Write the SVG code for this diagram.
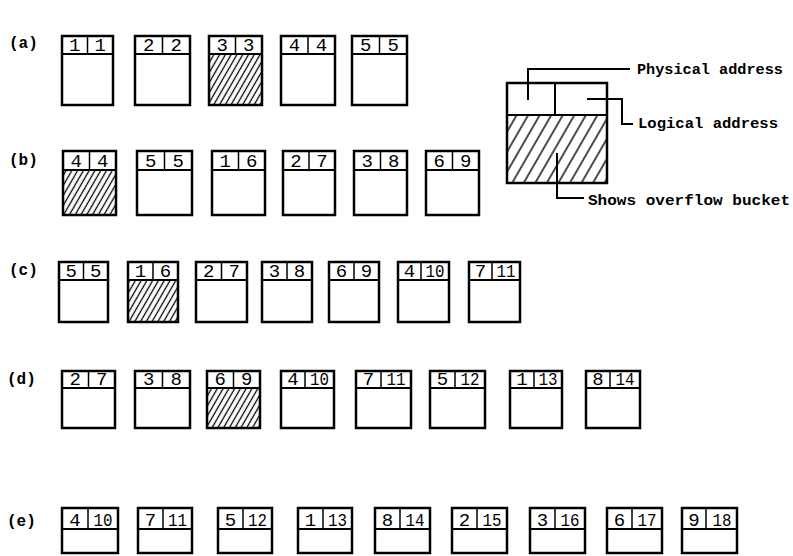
<svg xmlns="http://www.w3.org/2000/svg" width="793" height="556" viewBox="0 0 793 556">
<defs>
<pattern id="h" patternUnits="userSpaceOnUse" width="5" height="5" patternTransform="rotate(30)">
<line x1="2.5" y1="0" x2="2.5" y2="5" stroke="#000" stroke-width="1.3"/>
</pattern>
<pattern id="hl" patternUnits="userSpaceOnUse" width="10" height="10" patternTransform="rotate(30)">
<line x1="5" y1="0" x2="5" y2="10" stroke="#000" stroke-width="1.4"/>
</pattern>
<style>
.box{fill:none;stroke:#000;stroke-width:2.5}
.ln{stroke:#000;stroke-width:2}
.vd{stroke:#000;stroke-width:1.5}
.hf{fill:url(#h);stroke:none}
.n{font-family:"Liberation Mono","DejaVu Sans Mono",monospace;font-size:19px;text-anchor:middle;fill:#000}
.n2{font-family:"Liberation Mono","DejaVu Sans Mono",monospace;font-size:18px;text-anchor:middle;fill:#000}
.lab{font-family:"Liberation Mono","DejaVu Sans Mono",monospace;font-size:16px;font-weight:bold;fill:#000}
.leg{font-family:"Liberation Mono","DejaVu Sans Mono",monospace;font-size:15px;font-weight:bold;fill:#000}
.con{fill:none;stroke:#000;stroke-width:2}
</style>
</defs>
<rect width="793" height="556" fill="#fff"/>

<!-- row labels -->
<text class="lab" x="9" y="48">(a)</text>
<text class="lab" x="9" y="165">(b)</text>
<text class="lab" x="9" y="275">(c)</text>
<text class="lab" x="7" y="384">(d)</text>
<text class="lab" x="7" y="526">(e)</text>

<!-- row a -->
<g id="a1"><rect class="box" x="62" y="36" width="51" height="69"/><line class="ln" x1="62" y1="54" x2="113" y2="54"/><line class="vd" x1="87.5" y1="36" x2="87.5" y2="54"/><text class="n" x="74.75" y="51">1</text><text class="n" x="100.25" y="51">1</text></g>
<g id="a2"><rect class="box" x="135" y="36" width="55" height="69"/><line class="ln" x1="135" y1="54" x2="190" y2="54"/><line class="vd" x1="162.5" y1="36" x2="162.5" y2="54"/><text class="n" x="148.75" y="51">2</text><text class="n" x="176.25" y="51">2</text></g>
<g id="a3"><rect class="hf" x="209" y="54" width="53" height="51"/><rect class="box" x="209" y="36" width="53" height="69"/><line class="ln" x1="209" y1="54" x2="262" y2="54"/><line class="vd" x1="235.5" y1="36" x2="235.5" y2="54"/><text class="n" x="222.25" y="51">3</text><text class="n" x="248.75" y="51">3</text></g>
<g id="a4"><rect class="box" x="281" y="36" width="54" height="69"/><line class="ln" x1="281" y1="54" x2="335" y2="54"/><line class="vd" x1="308" y1="36" x2="308" y2="54"/><text class="n" x="294.5" y="51">4</text><text class="n" x="321.5" y="51">4</text></g>
<g id="a5"><rect class="box" x="352" y="36" width="55" height="69"/><line class="ln" x1="352" y1="54" x2="407" y2="54"/><line class="vd" x1="379.5" y1="36" x2="379.5" y2="54"/><text class="n" x="365.75" y="51">5</text><text class="n" x="393.25" y="51">5</text></g>

<!-- row b -->
<g id="b1"><rect class="hf" x="63" y="170" width="53" height="45"/><rect class="box" x="63" y="151" width="53" height="64"/><line class="ln" x1="63" y1="170" x2="116" y2="170"/><line class="vd" x1="89.5" y1="151" x2="89.5" y2="170"/><text class="n" x="76.25" y="167">4</text><text class="n" x="102.75" y="167">4</text></g>
<g id="b2"><rect class="box" x="137" y="151" width="55" height="64"/><line class="ln" x1="137" y1="170" x2="192" y2="170"/><line class="vd" x1="164.5" y1="151" x2="164.5" y2="170"/><text class="n" x="150.75" y="167">5</text><text class="n" x="178.25" y="167">5</text></g>
<g id="b3"><rect class="box" x="212" y="151" width="53" height="64"/><line class="ln" x1="212" y1="170" x2="265" y2="170"/><line class="vd" x1="238.5" y1="151" x2="238.5" y2="170"/><text class="n" x="225.25" y="167">1</text><text class="n" x="251.75" y="167">6</text></g>
<g id="b4"><rect class="box" x="283" y="151" width="52" height="64"/><line class="ln" x1="283" y1="170" x2="335" y2="170"/><line class="vd" x1="309" y1="151" x2="309" y2="170"/><text class="n" x="296" y="167">2</text><text class="n" x="322" y="167">7</text></g>
<g id="b5"><rect class="box" x="354" y="151" width="53" height="64"/><line class="ln" x1="354" y1="170" x2="407" y2="170"/><line class="vd" x1="380.5" y1="151" x2="380.5" y2="170"/><text class="n" x="367.25" y="167">3</text><text class="n" x="393.75" y="167">8</text></g>
<g id="b6"><rect class="box" x="426" y="151" width="53" height="64"/><line class="ln" x1="426" y1="170" x2="479" y2="170"/><line class="vd" x1="452.5" y1="151" x2="452.5" y2="170"/><text class="n" x="439.25" y="167">6</text><text class="n" x="465.75" y="167">9</text></g>

<!-- row c -->
<g id="c1"><rect class="box" x="59" y="262" width="49" height="60"/><line class="ln" x1="59" y1="280" x2="108" y2="280"/><line class="vd" x1="83.5" y1="262" x2="83.5" y2="280"/><text class="n" x="71.25" y="277">5</text><text class="n" x="95.75" y="277">5</text></g>
<g id="c2"><rect class="hf" x="128" y="280" width="50" height="42"/><rect class="box" x="128" y="262" width="50" height="60"/><line class="ln" x1="128" y1="280" x2="178" y2="280"/><line class="vd" x1="153" y1="262" x2="153" y2="280"/><text class="n" x="140.5" y="277">1</text><text class="n" x="165.5" y="277">6</text></g>
<g id="c3"><rect class="box" x="196" y="262" width="51" height="60"/><line class="ln" x1="196" y1="280" x2="247" y2="280"/><line class="vd" x1="221.5" y1="262" x2="221.5" y2="280"/><text class="n" x="208.75" y="277">2</text><text class="n" x="234.25" y="277">7</text></g>
<g id="c4"><rect class="box" x="262" y="262" width="50" height="60"/><line class="ln" x1="262" y1="280" x2="312" y2="280"/><line class="vd" x1="287" y1="262" x2="287" y2="280"/><text class="n" x="274.5" y="277">3</text><text class="n" x="299.5" y="277">8</text></g>
<g id="c5"><rect class="box" x="329" y="262" width="50" height="60"/><line class="ln" x1="329" y1="280" x2="379" y2="280"/><line class="vd" x1="354" y1="262" x2="354" y2="280"/><text class="n" x="341.5" y="277">6</text><text class="n" x="366.5" y="277">9</text></g>
<g id="c6"><rect class="box" x="398" y="262" width="51" height="60"/><line class="ln" x1="398" y1="280" x2="449" y2="280"/><line class="vd" x1="421" y1="262" x2="421" y2="280"/><text class="n" x="409.5" y="277">4</text><text class="n2" x="435" y="277" textLength="19" lengthAdjust="spacingAndGlyphs">10</text></g>
<g id="c7"><rect class="box" x="469" y="262" width="51" height="60"/><line class="ln" x1="469" y1="280" x2="520" y2="280"/><line class="vd" x1="492" y1="262" x2="492" y2="280"/><text class="n" x="480.5" y="277">7</text><text class="n2" x="506" y="277" textLength="19" lengthAdjust="spacingAndGlyphs">11</text></g>

<!-- row d -->
<g id="d1"><rect class="box" x="62" y="371" width="53" height="57"/><line class="ln" x1="62" y1="388" x2="115" y2="388"/><line class="vd" x1="88.5" y1="371" x2="88.5" y2="388"/><text class="n" x="75.25" y="385">2</text><text class="n" x="101.75" y="385">7</text></g>
<g id="d2"><rect class="box" x="135" y="371" width="55" height="57"/><line class="ln" x1="135" y1="388" x2="190" y2="388"/><line class="vd" x1="162.5" y1="371" x2="162.5" y2="388"/><text class="n" x="148.75" y="385">3</text><text class="n" x="176.25" y="385">8</text></g>
<g id="d3"><rect class="hf" x="207" y="388" width="53" height="40"/><rect class="box" x="207" y="371" width="53" height="57"/><line class="ln" x1="207" y1="388" x2="260" y2="388"/><line class="vd" x1="233.5" y1="371" x2="233.5" y2="388"/><text class="n" x="220.25" y="385">6</text><text class="n" x="246.75" y="385">9</text></g>
<g id="d4"><rect class="box" x="281" y="371" width="53" height="57"/><line class="ln" x1="281" y1="388" x2="334" y2="388"/><line class="vd" x1="305" y1="371" x2="305" y2="388"/><text class="n" x="293" y="385">4</text><text class="n2" x="319.5" y="385" textLength="19" lengthAdjust="spacingAndGlyphs">10</text></g>
<g id="d5"><rect class="box" x="356" y="371" width="55" height="57"/><line class="ln" x1="356" y1="388" x2="411" y2="388"/><line class="vd" x1="381" y1="371" x2="381" y2="388"/><text class="n" x="368.5" y="385">7</text><text class="n2" x="396" y="385" textLength="19" lengthAdjust="spacingAndGlyphs">11</text></g>
<g id="d6"><rect class="box" x="430" y="371" width="55" height="57"/><line class="ln" x1="430" y1="388" x2="485" y2="388"/><line class="vd" x1="455" y1="371" x2="455" y2="388"/><text class="n" x="442.5" y="385">5</text><text class="n2" x="470" y="385" textLength="19" lengthAdjust="spacingAndGlyphs">12</text></g>
<g id="d7"><rect class="box" x="510" y="371" width="52" height="57"/><line class="ln" x1="510" y1="388" x2="562" y2="388"/><line class="vd" x1="534" y1="371" x2="534" y2="388"/><text class="n" x="522" y="385">1</text><text class="n2" x="548" y="385" textLength="19" lengthAdjust="spacingAndGlyphs">13</text></g>
<g id="d8"><rect class="box" x="586" y="371" width="54" height="57"/><line class="ln" x1="586" y1="388" x2="640" y2="388"/><line class="vd" x1="610" y1="371" x2="610" y2="388"/><text class="n" x="598" y="385">8</text><text class="n2" x="625" y="385" textLength="19" lengthAdjust="spacingAndGlyphs">14</text></g>

<!-- row e -->
<g id="e1"><rect class="box" x="62" y="508" width="56" height="45"/><line class="ln" x1="62" y1="529" x2="118" y2="529"/><line class="vd" x1="88" y1="508" x2="88" y2="529"/><text class="n" x="75" y="526">4</text><text class="n2" x="103" y="526" textLength="19" lengthAdjust="spacingAndGlyphs">10</text></g>
<g id="e2"><rect class="box" x="138" y="508" width="54" height="45"/><line class="ln" x1="138" y1="529" x2="192" y2="529"/><line class="vd" x1="163" y1="508" x2="163" y2="529"/><text class="n" x="150.5" y="526">7</text><text class="n2" x="177.5" y="526" textLength="19" lengthAdjust="spacingAndGlyphs">11</text></g>
<g id="e3"><rect class="box" x="218" y="508" width="54" height="45"/><line class="ln" x1="218" y1="529" x2="272" y2="529"/><line class="vd" x1="243" y1="508" x2="243" y2="529"/><text class="n" x="230.5" y="526">5</text><text class="n2" x="257.5" y="526" textLength="19" lengthAdjust="spacingAndGlyphs">12</text></g>
<g id="e4"><rect class="box" x="298" y="508" width="54" height="45"/><line class="ln" x1="298" y1="529" x2="352" y2="529"/><line class="vd" x1="323" y1="508" x2="323" y2="529"/><text class="n" x="310.5" y="526">1</text><text class="n2" x="337.5" y="526" textLength="19" lengthAdjust="spacingAndGlyphs">13</text></g>
<g id="e5"><rect class="box" x="375" y="508" width="55" height="45"/><line class="ln" x1="375" y1="529" x2="430" y2="529"/><line class="vd" x1="400" y1="508" x2="400" y2="529"/><text class="n" x="387.5" y="526">8</text><text class="n2" x="415" y="526" textLength="19" lengthAdjust="spacingAndGlyphs">14</text></g>
<g id="e6"><rect class="box" x="452" y="508" width="55" height="45"/><line class="ln" x1="452" y1="529" x2="507" y2="529"/><line class="vd" x1="477" y1="508" x2="477" y2="529"/><text class="n" x="464.5" y="526">2</text><text class="n2" x="492" y="526" textLength="19" lengthAdjust="spacingAndGlyphs">15</text></g>
<g id="e7"><rect class="box" x="530" y="508" width="55" height="45"/><line class="ln" x1="530" y1="529" x2="585" y2="529"/><line class="vd" x1="555" y1="508" x2="555" y2="529"/><text class="n" x="542.5" y="526">3</text><text class="n2" x="570" y="526" textLength="19" lengthAdjust="spacingAndGlyphs">16</text></g>
<g id="e8"><rect class="box" x="607" y="508" width="55" height="45"/><line class="ln" x1="607" y1="529" x2="662" y2="529"/><line class="vd" x1="632" y1="508" x2="632" y2="529"/><text class="n" x="619.5" y="526">6</text><text class="n2" x="647" y="526" textLength="19" lengthAdjust="spacingAndGlyphs">17</text></g>
<g id="e9"><rect class="box" x="682" y="508" width="55" height="45"/><line class="ln" x1="682" y1="529" x2="737" y2="529"/><line class="vd" x1="706" y1="508" x2="706" y2="529"/><text class="n" x="694" y="526">9</text><text class="n2" x="722" y="526" textLength="19" lengthAdjust="spacingAndGlyphs">18</text></g>

<!-- legend -->
<g id="legend-box">
<rect x="507" y="115" width="100" height="68" fill="url(#hl)"/>
<rect class="box" x="507" y="83" width="100" height="100"/>
<line class="ln" x1="507" y1="115" x2="607" y2="115"/>
<line class="ln" x1="555" y1="83" x2="555" y2="115"/>
</g>
<g id="legend-physical"><text class="leg" x="637" y="74" textLength="146" lengthAdjust="spacingAndGlyphs">Physical address</text></g>
<g id="legend-logical"><text class="leg" x="638" y="128" textLength="140" lengthAdjust="spacingAndGlyphs">Logical address</text></g>
<g id="legend-overflow"><text class="leg" x="588" y="205" textLength="202" lengthAdjust="spacingAndGlyphs">Shows overflow bucket</text></g>

<g id="connectors">
<polyline class="con" points="528,100 528,69 630,69"/>
<polyline class="con" points="587,99 622,99 622,124 633,124"/>
<polyline class="con" points="557,153 557,198 584,198"/>
</g>
</svg>
